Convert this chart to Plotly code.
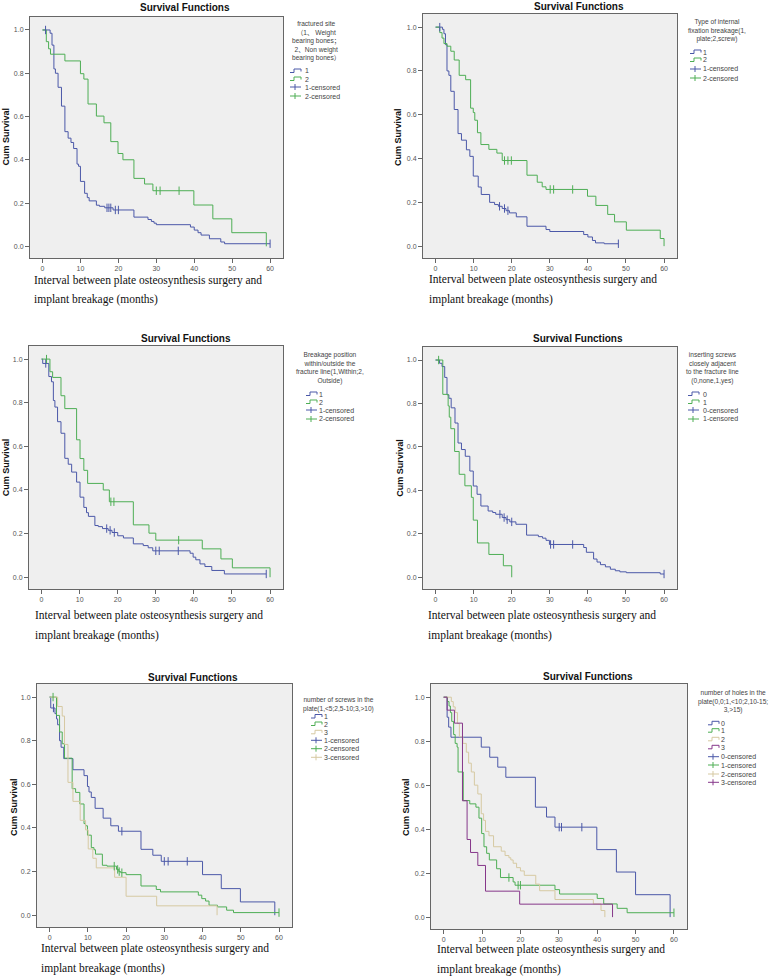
import plotly.graph_objects as go

W, H = 778, 977


def X(px):
    return px / W


def Y(py):
    return 1 - py / H


BLUE = "#4b58a8"
GREEN = "#4eae55"
BEIGE = "#d6c9a2"
PURPLE = "#86378a"

# ---------------- DATA (Kaplan-Meier step points: time, survival after step; censor times) -------------
# Panel 1: fractured site
p1_g1_t = [2, 2.5, 3, 3.4, 4.1, 5, 5.9, 6.75, 7.5, 8.2, 9.1, 9.5, 10, 11.1, 11.8, 12.3, 14.2, 15, 16.4, 18.6,
           24.1, 27.8, 28.7, 29.4, 30, 39, 40, 41, 41.8, 44, 47, 48, 60]
p1_g1_s = [0.985, 0.93, 0.82, 0.80, 0.735, 0.648, 0.53, 0.50, 0.48, 0.452, 0.38, 0.37, 0.30, 0.245, 0.225, 0.21,
           0.19, 0.185, 0.178, 0.168, 0.135, 0.124, 0.115, 0.107, 0.10, 0.089, 0.075, 0.063, 0.052, 0.035,
           0.02, 0.012, 0.012]
p1_g1_c = [0.8, 17, 17.5, 18, 19.2, 20, 60]
p1_g2_t = [1, 1.6, 2.1, 5.9, 10, 10.9, 12, 14.2, 16.2, 18, 19.9, 21.2, 24.1, 26.9, 29.1, 39.9, 44.9, 49.9, 59]
p1_g2_s = [0.946, 0.913, 0.888, 0.857, 0.798, 0.773, 0.658, 0.602, 0.571, 0.484, 0.429, 0.40, 0.314, 0.288,
           0.257, 0.191, 0.127, 0.063, 0.0]
p1_g2_c = [30, 31, 36]

# Panel 2: type of internal fixation breakage
p2_g1_t = [1.8, 2.2, 2.6, 3, 3.5, 4, 4.9, 5.9, 6.8, 8.1, 9, 9.9, 11.2, 12, 14.2, 15.5, 16.5, 17.5, 18.5, 19.4,
           21.2, 24, 29, 30, 38.9, 40, 41.2, 42, 44.3, 48]
p2_g1_s = [0.99, 0.97, 0.92, 0.80, 0.78, 0.707, 0.624, 0.514, 0.484, 0.44, 0.41, 0.32, 0.27, 0.236, 0.20, 0.19,
           0.182, 0.172, 0.162, 0.152, 0.134, 0.091, 0.076, 0.067, 0.053, 0.042, 0.026, 0.015, 0.011, 0.011]
p2_g1_c = [1.1, 16.8, 18.1, 19, 48]
p2_g2_t = [1.1, 1.7, 2.2, 3, 4, 4.9, 6.2, 7.9, 9.2, 9.9, 10.3, 11, 11.9, 14, 16.1, 17.5, 24, 26.7, 28, 29,
           39.9, 42.1, 45.2, 47, 50.1, 59, 60]
p2_g2_s = [0.975, 0.95, 0.925, 0.913, 0.89, 0.85, 0.78, 0.76, 0.63, 0.61, 0.575, 0.518, 0.464, 0.442, 0.425,
           0.391, 0.324, 0.292, 0.271, 0.259, 0.228, 0.186, 0.145, 0.111, 0.073, 0.035, 0.0]
p2_g2_c = [18.1, 19, 19.9, 30.1, 31, 36]

# Panel 3: breakage position within/outside fracture line
p3_g1_t = [0.3, 1.9, 2.6, 3.1, 3.5, 4.2, 5.1, 6.1, 7, 7.9, 9.2, 10.1, 11.1, 11.8, 12.3, 14, 14.9, 16, 17.5,
           18.5, 20, 21.5, 24.1, 26.7, 28, 29.2, 39, 39.8, 40.5, 41.6, 42.9, 44.7, 48, 59]
p3_g1_s = [0.98, 0.92, 0.896, 0.81, 0.78, 0.713, 0.66, 0.545, 0.518, 0.482, 0.436, 0.367, 0.32, 0.296, 0.279,
           0.237, 0.232, 0.223, 0.215, 0.205, 0.19, 0.18, 0.153, 0.145, 0.135, 0.121, 0.11, 0.092, 0.08,
           0.061, 0.049, 0.031, 0.015, 0.015]
p3_g1_c = [1.1, 17.1, 18, 19.1, 30, 30.9, 35.9, 59]
p3_g2_t = [2.2, 2.9, 5.1, 6.1, 9.2, 10.1, 11.1, 12.1, 16.2, 17.8, 24.1, 28.2, 30, 42.2, 47.1, 50.1, 60]
p3_g2_s = [0.942, 0.916, 0.832, 0.773, 0.63, 0.544, 0.49, 0.43, 0.40, 0.346, 0.24, 0.202, 0.17, 0.13, 0.084,
           0.043, 0.0]
p3_g2_c = [1.3, 18.2, 19, 36]

# Panel 4: inserting screws closely adjacent to the fracture line
p4_g0_t = [1.05, 1.7, 2.4, 3, 3.5, 4.1, 5.1, 5.9, 6.8, 7.8, 9, 9.9, 10.9, 11.9, 13.8, 15, 15.8, 17.5, 18.5,
           19.5, 21.1, 23.9, 27, 28.1, 29, 29.9, 38.9, 39.6, 41.5, 42.4, 43.3, 44.6, 45.9, 47.2, 48.4, 50.1,
           59, 60]
p4_g0_s = [0.985, 0.97, 0.92, 0.84, 0.824, 0.78, 0.71, 0.618, 0.588, 0.557, 0.489, 0.42, 0.382, 0.328, 0.305,
           0.298, 0.29, 0.275, 0.265, 0.255, 0.244, 0.194, 0.187, 0.18, 0.17, 0.151, 0.137, 0.115, 0.084,
           0.07, 0.058, 0.048, 0.037, 0.03, 0.025, 0.021, 0.015, 0.015]
p4_g0_c = [16.9, 18, 18.8, 20, 30.2, 31, 36, 60]
p4_g1_t = [1.9, 3.3, 3.6, 4, 5, 6.2, 7.7, 9.4, 9.9, 11, 14, 17.8, 20]
p4_g1_s = [0.842, 0.789, 0.737, 0.684, 0.579, 0.474, 0.421, 0.368, 0.263, 0.158, 0.105, 0.053, 0.0]
p4_g1_c = [0.8]

# Panel 5: number of screws in the plate
p5_g1_t = [0.3, 1.4, 1.8, 2.1, 2.6, 3, 3.7, 6.1, 9, 9.9, 10.3, 10.9, 11.9, 14, 16, 18, 23.9, 27, 29.2, 40,
           44.9, 49.9, 58.9]
p5_g1_s = [0.95, 0.924, 0.90, 0.873, 0.80, 0.77, 0.718, 0.667, 0.64, 0.59, 0.565, 0.54, 0.49, 0.445, 0.41,
           0.385, 0.302, 0.275, 0.247, 0.186, 0.122, 0.061, 0.0]
p5_g1_c = [1, 18.9, 30, 31, 36]
p5_g2_t = [1.8, 2.6, 3.3, 3.9, 5.9, 6.8, 7.9, 9, 9.4, 9.9, 10.9, 11.6, 12, 13.8, 15, 17.5, 18.1, 18.6, 20,
           23.9, 27.9, 29, 38.9, 39.8, 40.8, 41.7, 43.9, 46.3, 48.1, 60]
p5_g2_s = [0.916, 0.84, 0.786, 0.72, 0.58, 0.563, 0.51, 0.42, 0.41, 0.367, 0.31, 0.30, 0.28, 0.229, 0.225,
           0.21, 0.20, 0.195, 0.186, 0.134, 0.118, 0.107, 0.092, 0.076, 0.065, 0.046, 0.038, 0.023, 0.012,
           0.012]
p5_g2_c = [0.9, 16.9, 17.8, 18.2, 18.9, 60]
p5_g3_t = [2.1, 3.3, 3.9, 4.8, 6.1, 8, 9.4, 10.1, 11.3, 12.2, 17, 20, 28, 43.8]
p5_g3_s = [0.957, 0.913, 0.783, 0.609, 0.522, 0.435, 0.391, 0.304, 0.261, 0.217, 0.174, 0.087, 0.043, 0.0]
p5_g3_c = []

# Panel 6: number of holes in the plate
p6_g0_t = [0.9, 1.3, 1.9, 9.8, 12, 14.1, 16.2, 23.9, 26.8, 29, 39.9, 45, 50, 59]
p6_g0_s = [0.909, 0.864, 0.818, 0.773, 0.727, 0.682, 0.636, 0.5, 0.455, 0.409, 0.307, 0.205, 0.102, 0.0]
p6_g0_c = [30.1, 30.7, 36]
p6_g1_t = [1, 1.4, 1.75, 2.1, 2.6, 3, 3.5, 3.75, 5.1, 6.8, 8.4, 9.2, 9.9, 10.5, 11.2, 11.9, 13.8, 14.8,
           18.1, 18.6, 29, 30.2, 40, 41.7, 45.2, 47.8, 60]
p6_g1_s = [0.98, 0.96, 0.93, 0.89, 0.83, 0.79, 0.773, 0.66, 0.53, 0.515, 0.50, 0.45, 0.38, 0.32, 0.29, 0.26,
           0.22, 0.18, 0.16, 0.145, 0.125, 0.105, 0.085, 0.06, 0.04, 0.02, 0.02]
p6_g1_c = [17, 19.4, 20, 60]
p6_g2_t = [2, 2.5, 3, 3.6, 4.1, 5, 5.9, 6.5, 7.2, 8, 8.9, 9.8, 10.4, 10.9, 11.8, 13, 15, 16, 17, 17.5, 18.1,
           19, 20, 21, 24, 25, 29, 39, 41, 42]
p6_g2_s = [0.98, 0.956, 0.93, 0.88, 0.82, 0.79, 0.75, 0.70, 0.66, 0.60, 0.56, 0.47, 0.44, 0.39, 0.37, 0.32,
           0.30, 0.28, 0.27, 0.26, 0.245, 0.225, 0.21, 0.19, 0.15, 0.12, 0.08, 0.06, 0.03, 0.0]
p6_g2_c = []
p6_g3_t = [0.9, 2.8, 4.9, 6.1, 7, 8.9, 10.9, 19.8, 44]
p6_g3_s = [0.941, 0.882, 0.529, 0.353, 0.294, 0.235, 0.118, 0.059, 0.0]
p6_g3_c = []

x_ticks = [0, 10, 20, 30, 40, 50, 60]
y_ticks = [0.0, 0.2, 0.4, 0.6, 0.8, 1.0]

chart_title = "Survival Functions"
y_title = "Cum Survival"
x_title_lines = ["Interval between plate osteosynthesis surgery and", "implant breakage (months)"]

# ---------------- LAYOUT CONFIG (pixel geometry) -------------
panels = [
    dict(dx=(30, 283), dy=(17, 258), title=(185, 7), ytl=(5.5, 137), xtl=(32, 280, 300),
         curves=[("1", BLUE, p1_g1_t, p1_g1_s, p1_g1_c), ("2", GREEN, p1_g2_t, p1_g2_s, p1_g2_c)],
         leg_title=["fractured site", "（1、 Weight", "bearing bones；", "2、Non weight", "bearing bones）"],
         leg_tc=316, leg_tyc=41, leg_gx=290, leg_tx=304, leg_iy=[71, 79, 87, 96]),
    dict(dx=(423, 677), dy=(14, 258), title=(579, 6), ytl=(398, 137), xtl=(427, 279, 299),
         curves=[("1", BLUE, p2_g1_t, p2_g1_s, p2_g1_c), ("2", GREEN, p2_g2_t, p2_g2_s, p2_g2_c)],
         leg_title=["Type of internal", "fixation breakage(1,", "plate;2,screw)"],
         leg_tc=717, leg_tyc=31, leg_gx=690, leg_tx=702, leg_iy=[52, 60, 69, 78]),
    dict(dx=(29, 283), dy=(346, 589), title=(186, 339), ytl=(6.3, 467), xtl=(33, 615, 635),
         curves=[("1", BLUE, p3_g1_t, p3_g1_s, p3_g1_c), ("2", GREEN, p3_g2_t, p3_g2_s, p3_g2_c)],
         leg_title=["Breakage position", "within/outside the", "fracture line(1,Within;2,", "Outside)"],
         leg_tc=330, leg_tyc=367.5, leg_gx=306, leg_tx=318, leg_iy=[394, 402, 410, 419]),
    dict(dx=(423, 677), dy=(347, 589), title=(578, 339), ytl=(399.7, 468), xtl=(426, 615, 635),
         curves=[("0", BLUE, p4_g0_t, p4_g0_s, p4_g0_c), ("1", GREEN, p4_g1_t, p4_g1_s, p4_g1_c)],
         leg_title=["inserting screws", "closely adjacent", "to the fracture line", "(0,none,1,yes)"],
         leg_tc=712, leg_tyc=368, leg_gx=688, leg_tx=702, leg_iy=[394, 402, 410, 419]),
    dict(dx=(37, 292), dy=(684, 927), title=(193, 677), ytl=(14, 807), xtl=(39, 948, 968),
         curves=[("1", BLUE, p5_g1_t, p5_g1_s, p5_g1_c), ("2", GREEN, p5_g2_t, p5_g2_s, p5_g2_c),
                 ("3", BEIGE, p5_g3_t, p5_g3_s, p5_g3_c)],
         leg_title=["number of screws in the", "plate(1,<5;2,5-10;3,>10)"],
         leg_tc=338, leg_tyc=704.5, leg_gx=311, leg_tx=323,
         leg_iy=[716.5, 724, 732.3, 740.3, 748.7, 757.3]),
    dict(dx=(431, 687), dy=(684, 929), title=(588, 676), ytl=(406, 807), xtl=(435, 949, 969),
         curves=[("0", BLUE, p6_g0_t, p6_g0_s, p6_g0_c), ("1", GREEN, p6_g1_t, p6_g1_s, p6_g1_c),
                 ("2", BEIGE, p6_g2_t, p6_g2_s, p6_g2_c), ("3", PURPLE, p6_g3_t, p6_g3_s, p6_g3_c)],
         leg_title=["number of holes in the", "plate(0,0;1,<10;2,10-15;", "3,>15)"],
         leg_tc=733, leg_tyc=701.5, leg_gx=708, leg_tx=720,
         leg_iy=[723.3, 730.7, 739.3, 747.3, 756.7, 765, 774, 782.3]),
]

SANS = "Liberation Sans, Arial, Noto Sans CJK SC, sans-serif"
SERIF = "Liberation Serif, Times New Roman, serif"


def surv_at(t, T, S):
    v = 1.0
    for ti, si in zip(T, S):
        if ti <= t:
            v = si
    return v


fig = go.Figure()
annotations = []
shapes = []
layout_axes = {}

for i, p in enumerate(panels, start=1):
    xa = "x" if i == 1 else f"x{i}"
    ya = "y" if i == 1 else f"y{i}"
    xk = "xaxis" if i == 1 else f"xaxis{i}"
    yk = "yaxis" if i == 1 else f"yaxis{i}"
    layout_axes[xk] = dict(domain=[X(p["dx"][0]), X(p["dx"][1])], anchor=ya, range=[-3.3, 63.4],
                           tickvals=x_ticks, ticks="outside", ticklen=4, tickcolor="#666",
                           tickfont=dict(family=SANS, size=7, color="#555"), showline=True, mirror=True,
                           linecolor="#666", linewidth=1, showgrid=False, zeroline=False, fixedrange=True)
    layout_axes[yk] = dict(domain=[Y(p["dy"][1]), Y(p["dy"][0])], anchor=xa, range=[-0.054, 1.06],
                           tickvals=y_ticks, tickformat=".1f", ticks="outside", ticklen=4, tickcolor="#666",
                           tickfont=dict(family=SANS, size=7, color="#555"), showline=True, mirror=True,
                           linecolor="#666", linewidth=1, showgrid=False, zeroline=False, fixedrange=True)

    # curves
    for name, col, T, S, C in p["curves"]:
        fig.add_trace(go.Scatter(x=[0] + T, y=[1.0] + S, mode="lines", line=dict(color=col, width=1, shape="hv"),
                                 xaxis=xa, yaxis=ya, showlegend=False, hoverinfo="skip"))
    for name, col, T, S, C in p["curves"]:
        if C:
            fig.add_trace(go.Scatter(x=C, y=[surv_at(c, T, S) for c in C], mode="markers",
                                     marker=dict(symbol="line-ns", size=6, line=dict(color=col, width=1)),
                                     xaxis=xa, yaxis=ya, showlegend=False, hoverinfo="skip"))

    # titles
    annotations.append(dict(text=f"<b>{chart_title}</b>", x=X(p["title"][0]), y=Y(p["title"][1]),
                            xref="paper", yref="paper", showarrow=False, xanchor="center", yanchor="middle",
                            font=dict(family=SANS, size=10, color="#111")))
    annotations.append(dict(text=f"<b>{y_title}</b>", x=X(p["ytl"][0]), y=Y(p["ytl"][1]), textangle=-90,
                            xref="paper", yref="paper", showarrow=False, xanchor="center", yanchor="middle",
                            font=dict(family=SANS, size=9, color="#111")))
    for line, yy in zip(x_title_lines, p["xtl"][1:]):
        annotations.append(dict(text=line, x=X(p["xtl"][0]), y=Y(yy), xref="paper", yref="paper",
                                showarrow=False, xanchor="left", yanchor="middle",
                                font=dict(family=SANS if False else SERIF, size=11.5, color="#111")))

    # legend title (one multi-line text block)
    annotations.append(dict(text="<br>".join(p["leg_title"]), x=X(p["leg_tc"]), y=Y(p["leg_tyc"]),
                            xref="paper", yref="paper", showarrow=False, xanchor="center", yanchor="middle",
                            align="center", borderpad=0,
                            font=dict(family=SANS, size=6.6, color="#444")))
    items = [(n, c, False) for n, c, *_ in p["curves"]] + [(n + "-censored", c, True) for n, c, *_ in p["curves"]]
    gx = p["leg_gx"]
    for (lab, col, cens), yy in zip(items, p["leg_iy"]):
        if cens:
            shapes.append(dict(type="line", xref="paper", yref="paper", x0=X(gx), x1=X(gx + 11),
                               y0=Y(yy), y1=Y(yy), line=dict(color=col, width=1)))
            shapes.append(dict(type="line", xref="paper", yref="paper", x0=X(gx + 5), x1=X(gx + 5),
                               y0=Y(yy - 3), y1=Y(yy + 3), line=dict(color=col, width=1)))
        else:
            path = (f"M {X(gx)} {Y(yy + 1.5)} L {X(gx + 4)} {Y(yy + 1.5)} L {X(gx + 4)} {Y(yy - 2)} "
                    f"L {X(gx + 11)} {Y(yy - 2)} L {X(gx + 11)} {Y(yy + 0.5)}")
            shapes.append(dict(type="path", xref="paper", yref="paper", path=path,
                               line=dict(color=col, width=1)))
        annotations.append(dict(text=lab, x=X(p["leg_tx"]), y=Y(yy), xref="paper", yref="paper",
                                showarrow=False, xanchor="left", yanchor="middle", borderpad=0,
                                font=dict(family=SANS, size=7, color="#444")))

fig.update_layout(width=W, height=H, margin=dict(l=0, r=0, t=0, b=0), paper_bgcolor="white",
                  plot_bgcolor="#efefef", showlegend=False, annotations=annotations, shapes=shapes,
                  **layout_axes)

fig.write_html("out.html", config={"displayModeBar": False},
               post_script="document.body.style.margin='0px';")
